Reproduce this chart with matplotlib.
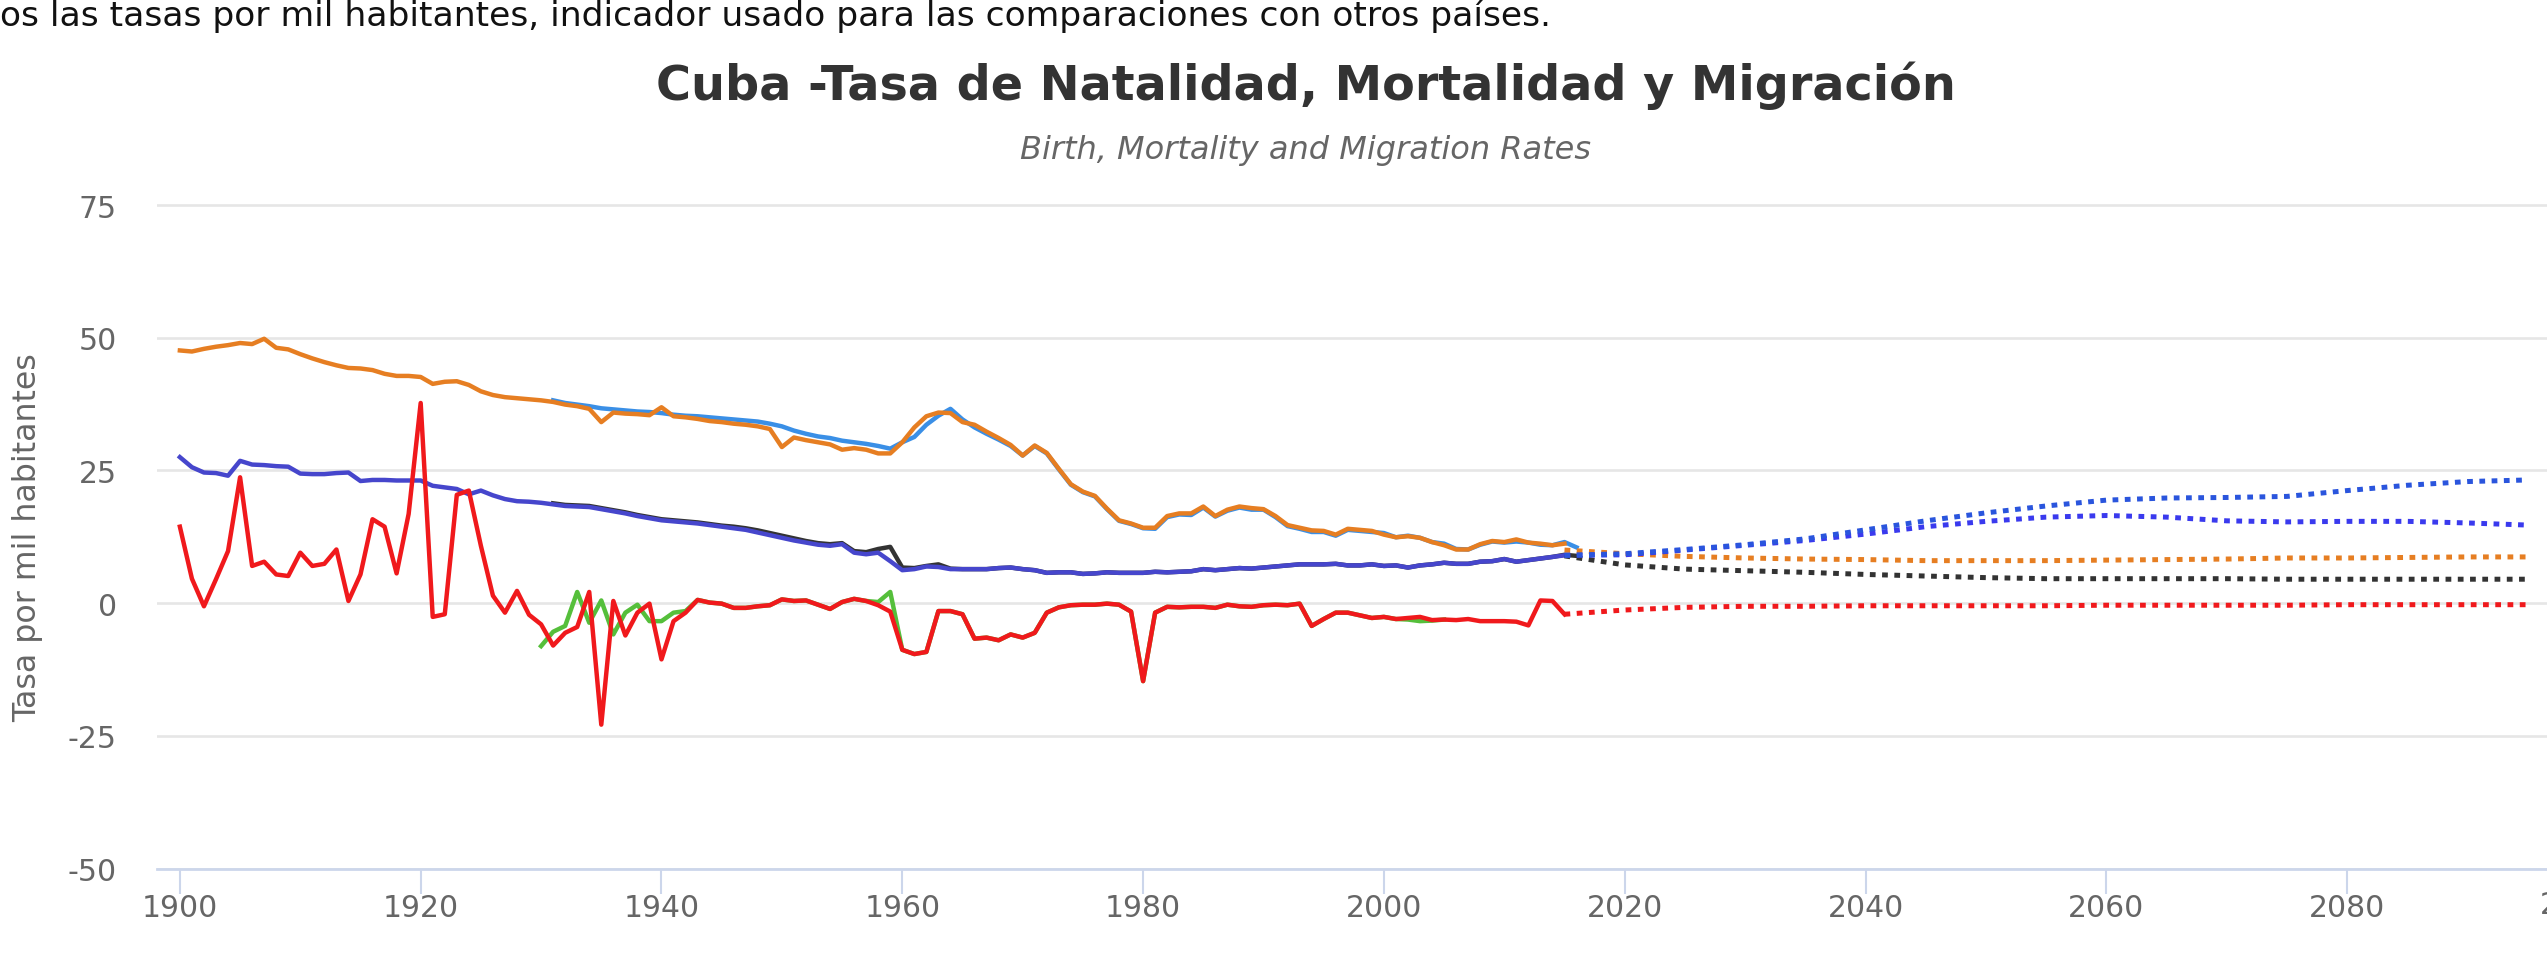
import numpy as np
import matplotlib.pyplot as plt
from matplotlib.ticker import FixedLocator

plt.rcParams['font.family'] = ['DejaVu Sans']
plt.rcParams['axes.unicode_minus'] = False

# historical series, one value per year
years = np.arange(1900, 2016)
birth_a = [47.6, 47.4, 47.9, 48.3, 48.6, 49.0, 48.8, 49.8, 48.1, 47.8,
           46.9, 46.1, 45.4, 44.8, 44.3, 44.2, 43.9, 43.2, 42.8, 42.8,
           42.6, 41.3, 41.7, 41.8, 41.1, 39.9, 39.2, 38.8, 38.6, 38.4,
           38.2, 37.9, 37.4, 37.1, 36.6, 34.1, 35.9, 35.7, 35.6, 35.4,
           36.9, 35.2, 35.0, 34.7, 34.3, 34.1, 33.8, 33.6, 33.3, 32.8,
           29.4, 31.2, 30.7, 30.3, 29.9, 28.9, 29.2, 28.9, 28.2, 28.2,
           30.3, 33.1, 35.2, 35.9, 35.8, 34.1, 33.6, 32.3, 31.1, 29.8,
           27.8, 29.7, 28.3, 25.3, 22.4, 21.0, 20.2, 17.8, 15.6, 15.0,
           14.2, 14.2, 16.4, 16.9, 16.9, 18.2, 16.4, 17.6, 18.2, 17.9,
           17.7, 16.4, 14.7, 14.2, 13.7, 13.6, 12.9, 14.0, 13.8, 13.6,
           12.9, 12.4, 12.6, 12.3, 11.5, 10.9, 10.1, 10.1, 11.1, 11.7,
           11.5, 12.0, 11.4, 11.2, 10.9, 11.2]
death_a = [27.5, 25.6, 24.6, 24.5, 24.0, 26.8, 26.1, 26.0, 25.8, 25.7,
           24.4, 24.3, 24.3, 24.5, 24.6, 23.0, 23.2, 23.2, 23.1, 23.1,
           23.1, 22.1, 21.8, 21.5, 20.5, 21.2, 20.3, 19.6, 19.2, 19.1,
           18.9, 18.6, 18.3, 18.2, 18.1, 17.7, 17.3, 16.9, 16.4, 16.0,
           15.6, 15.4, 15.2, 15.0, 14.7, 14.4, 14.1, 13.8, 13.3, 12.8,
           12.3, 11.8, 11.4, 11.0, 10.8, 11.1, 9.5, 9.2, 9.5, 7.9,
           6.2, 6.4, 6.9, 6.8, 6.4, 6.4, 6.4, 6.4, 6.6, 6.7,
           6.4, 6.2, 5.7, 5.8, 5.8, 5.5, 5.6, 5.8, 5.7, 5.7,
           5.7, 5.9, 5.8, 5.9, 6.0, 6.4, 6.2, 6.4, 6.6, 6.5,
           6.7, 6.9, 7.1, 7.3, 7.3, 7.3, 7.4, 7.1, 7.1, 7.3,
           7.0, 7.1, 6.7, 7.1, 7.3, 7.6, 7.4, 7.4, 7.8, 7.9,
           8.3, 7.8, 8.1, 8.4, 8.7, 9.0]
migration_a = [14.4, 4.6, -0.6, 4.5, 9.8, 23.7, 7.0, 7.8, 5.4, 5.1,
               9.5, 7.0, 7.4, 10.1, 0.4, 5.4, 15.8, 14.4, 5.6, 16.8,
               37.7, -2.6, -2.1, 20.4, 21.2, 10.8, 1.4, -1.8, 2.3, -2.2,
               -4.0, -8.0, -5.6, -4.5, 2.1, -22.9, 0.4, -6.1, -1.8, -0.1,
               -10.6, -3.4, -1.8, 0.6, 0.1, -0.1, -0.9, -0.9, -0.6, -0.4,
               0.7, 0.4, 0.5, -0.3, -1.1, 0.2, 0.8, 0.4, -0.4, -1.6,
               -8.8, -9.6, -9.2, -1.5, -1.5, -2.1, -6.7, -6.5, -7.0, -5.9,
               -6.5, -5.6, -1.8, -0.8, -0.4, -0.3, -0.3, -0.1, -0.3, -1.6,
               -14.7, -1.8, -0.7, -0.8, -0.7, -0.7, -0.9, -0.3, -0.6, -0.7,
               -0.4, -0.3, -0.4, -0.1, -4.3, -3.0, -1.8, -1.8, -2.3, -2.8,
               -2.6, -3.0, -2.8, -2.6, -3.2, -3.1, -3.2, -3.0, -3.4, -3.4,
               -3.4, -3.5, -4.2, 0.5, 0.4, -2.1]

# second source, 1931-2016
years_b = np.arange(1931, 2017)
birth_b = [38.2, 37.7, 37.4, 37.1, 36.7, 36.5, 36.3, 36.1, 36.0,
           35.8, 35.5, 35.3, 35.2, 35.0, 34.8, 34.6, 34.4, 34.2, 33.8,
           33.3, 32.5, 31.9, 31.4, 31.1, 30.6, 30.3, 30.0, 29.6, 29.1,
           30.3, 31.3, 33.6, 35.3, 36.6, 34.6, 33.1, 31.9, 30.8, 29.6,
           27.8, 29.6, 28.2, 25.2, 22.3, 20.9, 20.1, 17.7, 15.5, 14.9,
           14.1, 14.0, 16.2, 16.7, 16.6, 18.0, 16.3, 17.4, 18.0, 17.6,
           17.6, 16.2, 14.5, 14.0, 13.4, 13.4, 12.7, 13.8, 13.6, 13.4,
           13.2, 12.4, 12.7, 12.3, 11.5, 11.2, 10.2, 10.1, 11.0, 11.6,
           11.4, 11.6, 11.4, 11.0, 10.9, 11.5, 10.5]
death_b = [18.8, 18.5, 18.4, 18.3, 17.9, 17.5, 17.1, 16.6, 16.2,
           15.8, 15.6, 15.4, 15.2, 14.9, 14.6, 14.4, 14.1, 13.7, 13.2,
           12.7, 12.2, 11.7, 11.3, 11.1, 11.3, 9.8, 9.6, 10.2, 10.6,
           6.7, 6.6, 7.0, 7.3, 6.5, 6.4, 6.4, 6.4, 6.6, 6.7,
           6.4, 6.2, 5.7, 5.8, 5.8, 5.5, 5.6, 5.8, 5.7, 5.7,
           5.7, 5.9, 5.8, 5.9, 6.0, 6.4, 6.2, 6.4, 6.6, 6.5,
           6.7, 6.9, 7.1, 7.3, 7.3, 7.3, 7.4, 7.1, 7.1, 7.3,
           7.0, 7.1, 6.7, 7.1, 7.3, 7.6, 7.4, 7.4, 7.8, 7.9,
           8.3, 7.8, 8.1, 8.4, 8.7, 9.1, 8.9]

years_g = np.arange(1930, 2006)
migration_b = [-8.1, -5.4, -4.3, 2.1, -3.7, 0.5, -5.9, -1.8, -0.3, -3.4,
               -3.4, -1.8, -1.5, 0.6, 0.1, -0.1, -0.9, -0.9, -0.6, -0.4,
               0.7, 0.4, 0.5, -0.3, -1.1, 0.2, 0.8, 0.4, 0.2, 2.1,
               -8.8, -9.6, -9.2, -1.5, -1.5, -2.1, -6.7, -6.5, -7.0, -5.9,
               -6.5, -5.6, -1.8, -0.8, -0.4, -0.3, -0.3, -0.1, -0.3, -1.6,
               -14.7, -1.8, -0.7, -0.8, -0.7, -0.7, -0.9, -0.3, -0.6, -0.7,
               -0.4, -0.3, -0.4, -0.1, -4.3, -3.0, -1.8, -1.8, -2.3, -2.8,
               -2.6, -3.0, -3.1, -3.4, -3.3, -3.1]

# projections
years_fc = np.arange(2015, 2100, 5)
fc_birth = [10.0, 9.3, 8.8, 8.5, 8.3, 8.2, 8.0, 8.0, 8.0, 8.1, 8.2, 8.3, 8.5, 8.5, 8.6, 8.7, 8.7]
fc_death_hi = [9.0, 9.3, 10.1, 11.0, 12.1, 13.8, 15.5, 17.0, 18.3, 19.4, 19.8, 19.9, 20.1, 21.2, 22.2, 22.9, 23.2]
fc_death_mid = [9.0, 9.1, 10.0, 10.9, 11.8, 13.0, 14.4, 15.4, 16.2, 16.5, 16.2, 15.5, 15.3, 15.4, 15.4, 15.1, 14.7]
fc_death_lo = [8.9, 7.2, 6.4, 6.1, 5.8, 5.4, 5.1, 4.8, 4.6, 4.6, 4.6, 4.6, 4.5, 4.5, 4.5, 4.5, 4.5]
fc_migration = [-2.1, -1.3, -0.8, -0.6, -0.6, -0.5, -0.5, -0.5, -0.5, -0.4, -0.4, -0.4, -0.4, -0.3, -0.3, -0.3, -0.3]

x_ticks = [1900, 1920, 1940, 1960, 1980, 2000, 2020, 2040, 2060, 2080, 2100]
y_ticks = [-50, -25, 0, 25, 50, 75]

W, H = 2547, 954
fig = plt.figure(figsize=(W / 100, H / 100), dpi=100)
ax = fig.add_axes([157 / W, 84.5 / H, 2455 / W, 668.8 / H])

lw = 3.2
dot = (0, (1.15, 1.3))
ax.plot(years_b, birth_b, color='#3a8fe6', lw=lw)
ax.plot(years, birth_a, color='#e67e22', lw=lw)
ax.plot(years_b, death_b, color='#333333', lw=lw)
ax.plot(years, death_a, color='#4646cc', lw=lw)
ax.plot(years_g, migration_b, color='#55bf3b', lw=lw)
ax.plot(years, migration_a, color='#f0191c', lw=lw)

ax.plot(years_fc, fc_birth, color='#e67e22', lw=3.6, ls=dot)
ax.plot(years_fc, fc_death_lo, color='#333333', lw=3.6, ls=dot)
ax.plot(years_fc, fc_death_mid, color='#3a3aee', lw=3.6, ls=dot)
ax.plot(years_fc, fc_death_hi, color='#2a55dd', lw=3.6, ls=dot)
ax.plot(years_fc, fc_migration, color='#f0191c', lw=3.6, ls=dot)

ax.set_xlim(1898.1, 2102)
ax.set_ylim(-50, 76)
ax.xaxis.set_major_locator(FixedLocator(x_ticks))
ax.set_xticklabels([str(t) for t in x_ticks[:-1]] + [''])
ax.yaxis.set_major_locator(FixedLocator(y_ticks))
ax.grid(axis='y', color='#e6e6e6', lw=1.9)
ax.set_axisbelow(True)
for side in ['top', 'right', 'left']:
    ax.spines[side].set_visible(False)
ax.spines['bottom'].set_color('#ccd6eb')
ax.spines['bottom'].set_linewidth(2)
ax.tick_params(axis='x', colors='#666666', labelsize=21.5, length=18, width=1.5, pad=0)
ax.tick_params(axis='x', color='#ccd6eb')
ax.tick_params(axis='y', colors='#666666', labelsize=21.5, length=0, pad=29)

# last x label is pushed left to stay inside the chart
fig.text(2540 / W, 1 - 906 / H, '2100', ha='left', va='center', fontsize=21.5, color='#666666')

fig.text(28 / W, 1 - 538 / H, 'Tasa por mil habitantes', rotation=90, ha='center', va='center',
         fontsize=22.8, color='#666666')
fig.text(1306 / W, 1 - 86 / H, 'Cuba -Tasa de Natalidad, Mortalidad y Migración', ha='center', va='center',
         fontsize=34.4, fontweight='bold', color='#333333')
fig.text(1306 / W, 1 - 151 / H, 'Birth, Mortality and Migration Rates', ha='center', va='center',
         fontsize=23, style='italic', color='#666666')
fig.text(1551 / W, 1 - 26 / H, 'os las tasas por mil habitantes, indicador usado para las comparaciones con otros países.',
         ha='right', va='baseline', fontsize=24.8, color='#111111')

fig.savefig('out.png', dpi=100)
